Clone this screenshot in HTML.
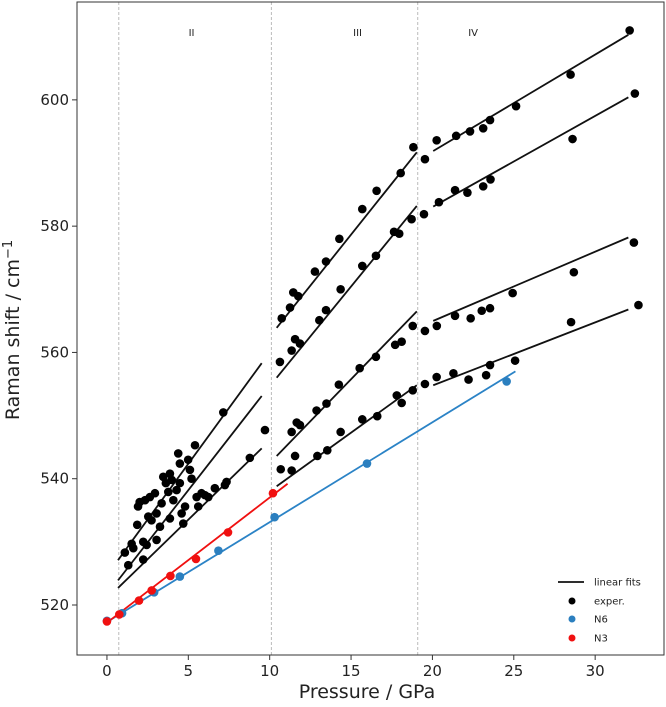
<!DOCTYPE html>
<html><head><meta charset="utf-8"><style>
html,body{margin:0;padding:0;background:#fff;}
svg{display:block;font-family:"DejaVu Sans","Liberation Sans",sans-serif;}
</style></head><body>
<svg id="chart" width="666" height="707" viewBox="0 0 666 707" xmlns="http://www.w3.org/2000/svg"></svg>
<script>
const xTicks=[0,5,10,15,20,25,30];
const yTicks=[520,540,560,580,600];
const phaseBounds=[0.73,10.1,19.1];
const phaseLabels=["II","III","IV"];
const phaseLabelX=[5.2,15.4,22.5];
const exP=[1.10,1.52,1.31,1.62,1.91,2.01,2.34,2.64,2.95,1.86,2.23,2.23,2.44,2.54,2.74,3.05,3.05,3.26,3.36,3.46,3.62,3.77,3.87,3.98,4.08,3.87,4.28,4.38,4.48,4.48,4.59,4.69,4.80,4.99,5.10,5.2,5.41,5.51,5.61,5.81,6.02,6.23,6.63,7.25,7.35,7.15,8.78,9.71,
10.74,11.25,11.45,11.76,12.78,13.46,14.28,15.69,16.57,18.05,18.83,19.54,20.26,21.46,22.31,23.12,23.54,25.14,28.49,32.12,
10.63,11.35,11.56,11.86,13.05,13.46,14.36,15.69,16.53,17.64,17.96,18.72,19.48,20.4,21.39,22.15,23.12,23.57,28.61,32.44,
11.35,11.66,11.86,12.88,13.49,14.25,15.53,16.53,17.71,18.11,18.79,19.54,20.27,21.39,22.35,23.03,23.54,24.93,28.69,32.38,
10.68,11.35,11.56,12.93,13.54,14.36,15.69,16.61,17.81,18.11,18.79,19.54,20.26,21.29,22.22,23.3,23.54,25.08,28.52,32.66];
const exV=[528.3,529.7,526.3,529.0,535.6,536.3,536.6,537.1,537.7,532.7,530.0,527.2,529.5,534.0,533.4,534.5,530.3,532.4,536.1,540.3,539.3,537.9,540.8,539.8,536.6,533.7,538.2,544.0,542.4,539.3,534.5,532.9,535.6,543.0,541.4,540.0,545.3,537.1,535.6,537.7,537.4,537.1,538.5,539.0,539.5,550.5,543.3,547.7,
565.4,567.1,569.5,568.9,572.8,574.4,578.0,582.7,585.6,588.4,592.5,590.6,593.6,594.3,595.0,595.5,596.8,599.0,604.0,611.0,
558.5,560.3,562.1,561.4,565.1,566.7,570.0,573.7,575.3,579.1,578.8,581.1,581.9,583.8,585.7,585.3,586.3,587.4,593.8,601.0,
547.4,548.9,548.5,550.8,551.9,554.9,557.5,559.3,561.2,561.7,564.2,563.4,564.2,565.8,565.4,566.6,567.0,569.4,572.7,577.4,
541.5,541.3,543.6,543.6,544.5,547.4,549.4,549.9,553.2,552.0,554.0,555.0,556.1,556.7,555.7,556.4,558.0,558.7,564.8,567.5];
const fitP0=[0.68,0.68,0.68,10.43,10.43,10.43,10.43,20.05,20.05,20.05,20.05];
const fitP1=[9.51,9.51,9.51,19.04,19.04,19.04,19.04,32.04,32.04,32.04,32.04];
const fitV0=[527.1,523.9,522.7,563.9,556.0,543.6,538.8,591.9,583.1,565.0,554.8];
const fitV1=[558.3,553.1,544.8,591.7,583.2,566.5,554.8,610.3,600.4,578.2,566.8];
const n6P=[0,0.93,2.9,4.48,6.85,10.3,15.98,24.56];
const n6V=[517.5,518.7,522.0,524.5,528.6,533.9,542.4,555.4];
const n6FitP=[0,25.1];const n6FitV=[517.3,557.0];
const n3P=[0,0.76,1.97,2.75,3.9,5.47,7.44,10.2];
const n3V=[517.4,518.5,520.7,522.3,524.6,527.3,531.5,537.7];
const n3FitP=[0,11.1];const n3FitV=[517.2,539.2];

const L=77,R=664,T=2,B=655;
const xMin=-1.84,xMax=34.23,yMin=512.08,yMax=615.5;
const sx=p=>L+(p-xMin)/(xMax-xMin)*(R-L);
const sy=v=>B-(v-yMin)/(yMax-yMin)*(B-T);
const svg=document.getElementById('chart');
const NS="http://www.w3.org/2000/svg";
function mk(tag,attrs,parent){const e=document.createElementNS(NS,tag);for(const k in attrs)e.setAttribute(k,attrs[k]);(parent||svg).appendChild(e);return e;}

phaseBounds.forEach((p,i)=>{const l=mk('line',{x1:sx(p),x2:sx(p),y1:T,y2:B,stroke:'#aaa','stroke-width':0.8,'stroke-dasharray':'3,2'});

});
phaseLabels.forEach((t,i)=>{const e=mk('text',{x:sx(phaseLabelX[i]),y:36,'font-size':10,'text-anchor':'middle',fill:'#222'});e.textContent=t;

});

for(let i=0;i<fitP0.length;i++){const l=mk('line',{x1:sx(fitP0[i]),y1:sy(fitV0[i]),x2:sx(fitP1[i]),y2:sy(fitV1[i]),stroke:'#111','stroke-width':1.8});

}
const bl=mk('line',{x1:sx(n6FitP[0]),y1:sy(n6FitV[0]),x2:sx(n6FitP[1]),y2:sy(n6FitV[1]),stroke:'#2b83c6','stroke-width':1.8});


const rl=mk('line',{x1:sx(n3FitP[0]),y1:sy(n3FitV[0]),x2:sx(n3FitP[1]),y2:sy(n3FitV[1]),stroke:'#f01010','stroke-width':1.8});



exP.forEach((p,i)=>{const c=mk('circle',{cx:sx(p),cy:sy(exV[i]),r:4.3,fill:'#000'});

});
n6P.forEach((p,i)=>{const c=mk('circle',{cx:sx(p),cy:sy(n6V[i]),r:4.3,fill:'#2b7fbf'});

});
n3P.forEach((p,i)=>{const c=mk('circle',{cx:sx(p),cy:sy(n3V[i]),r:4.3,fill:'#f01010'});

});

const fr=mk('rect',{x:L,y:T,width:R-L,height:B-T,fill:'none',stroke:'#333','stroke-width':1});


xTicks.forEach(t=>{const x=sx(t);mk('line',{x1:x,x2:x,y1:B,y2:B+5,stroke:'#333'});
const e=mk('text',{x:x,y:B+21,'font-size':15,'text-anchor':'middle',fill:'#222'});e.textContent=t;

});
yTicks.forEach(t=>{const y=sy(t);mk('line',{x1:L-5,x2:L,y1:y,y2:y,stroke:'#333'});
const e=mk('text',{x:L-8,y:y+5,'font-size':15,'text-anchor':'end',fill:'#222'});e.textContent=t;

});
const xt=mk('text',{x:367,y:698,'font-size':19,'text-anchor':'middle',fill:'#222'});xt.textContent='Pressure / GPa';


const yt=mk('text',{x:0,y:0,'font-size':19,'text-anchor':'middle',fill:'#222',transform:'translate(19,330) rotate(-90)'});
yt.innerHTML='Raman shift / cm<tspan dy="-7" font-size="13">−1</tspan>';



const lg=mk('g',{});


mk('line',{x1:558,x2:584,y1:582,y2:582,stroke:'#111','stroke-width':1.8},lg);
[['#000',601],['#2b7fbf',619],['#f01010',638]].forEach(a=>{mk('circle',{cx:572,cy:a[1],r:3.5,fill:a[0]},lg);});
[['linear fits',582],['exper.',601],['N6',619],['N3',638]].forEach(a=>{const e=mk('text',{x:594,y:a[1]+3.5,'font-size':10,fill:'#222'},lg);e.textContent=a[0];

});
</script>
</body></html>
